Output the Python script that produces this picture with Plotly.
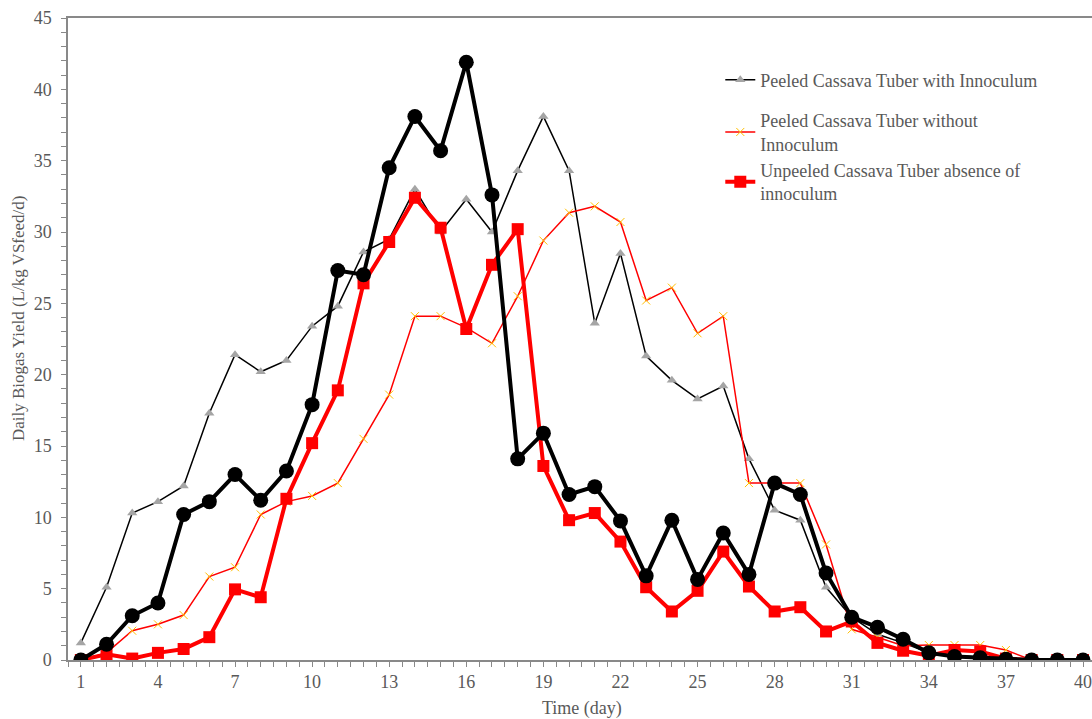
import plotly.graph_objects as go

days = list(range(1, 41))

peeled_with = [1.2, 5.1, 10.3, 11.1, 12.2, 17.3, 21.4, 20.2, 21.0, 23.4,
               24.8, 28.6, 29.5, 33.0, 30.0, 32.3, 30.0, 34.3, 38.1, 34.3,
               23.6, 28.5, 21.3, 19.6, 18.3, 19.2, 14.1, 10.5, 9.8, 5.1,
               3.0, 1.8, 1.2, 0.5, 0.3, 0.2, 0.1, 0.0, 0.0, 0.0]

peeled_without = [0.0, 0.5, 2.05, 2.5, 3.15, 5.85, 6.5, 10.2, 11.1, 11.5,
                  12.4, 15.5, 18.6, 24.1, 24.1, 23.3, 22.2, 25.5, 29.4, 31.35,
                  31.8, 30.7, 25.2, 26.1, 22.9, 24.1, 12.4, 12.4, 12.4, 8.1,
                  2.15, 1.6, 1.0, 1.05, 1.05, 1.05, 0.7, 0.0, 0.0, 0.0]

unpeeled = [0.0, 0.4, 0.1, 0.5, 0.77, 1.6, 4.95, 4.4, 11.3, 15.2,
            18.9, 26.4, 29.3, 32.4, 30.3, 23.2, 27.7, 30.2, 13.6, 9.8,
            10.3, 8.3, 5.1, 3.4, 4.85, 7.6, 5.15, 3.4, 3.7, 2.0,
            2.7, 1.2, 0.65, 0.3, 0.7, 0.6, 0.1, 0.0, 0.0, 0.0]

circles_series = [0.0, 1.1, 3.1, 4.0, 10.2, 11.1, 13.0, 11.2, 13.25, 17.9,
                  27.3, 27.0, 34.5, 38.1, 35.7, 41.9, 32.6, 14.1, 15.9, 11.6,
                  12.15, 9.75, 5.9, 9.8, 5.65, 8.9, 6.0, 12.4, 11.6, 6.1,
                  3.0, 2.3, 1.45, 0.5, 0.25, 0.15, 0.05, 0.0, 0.0, 0.0]

x_ticks = list(range(1, 41, 3))
y_ticks = list(range(0, 46, 5))

FONT = "Liberation Serif, Times New Roman, serif"
GREY = "#595959"
AXIS = "#898989"

fig = go.Figure()

fig.add_trace(go.Scatter(
    x=days, y=peeled_with, mode="lines+markers",
    name="Peeled Cassava Tuber with Innoculum", legendgroup="a",
    line=dict(color="black", width=1.5),
    marker=dict(symbol="triangle-up", color="#a5a5a5", size=9, line=dict(width=0)),
))
fig.add_trace(go.Scatter(
    x=days, y=peeled_without, mode="lines+markers",
    name="Peeled Cassava Tuber without<br>Innoculum", legendgroup="b",
    line=dict(color="#ff0000", width=1.5),
    marker=dict(symbol="x-thin", color="#ffc000", size=8, line=dict(width=1, color="#ffc000")),
))
fig.add_trace(go.Scatter(
    x=days, y=unpeeled, mode="lines+markers",
    name="Unpeeled Cassava Tuber absence of<br>innoculum", legendgroup="b",
    line=dict(color="#ff0000", width=4),
    marker=dict(symbol="square", color="#ff0000", size=12, line=dict(width=0)),
))
fig.add_trace(go.Scatter(
    x=days, y=circles_series, mode="lines+markers",
    name="Series 4", showlegend=False,
    line=dict(color="black", width=4),
    marker=dict(symbol="circle", color="black", size=15, line=dict(width=0)),
))

fig.update_layout(
    width=1092, height=719,
    margin=dict(l=68, r=0, t=18, b=59),
    paper_bgcolor="white", plot_bgcolor="white",
    font=dict(family=FONT, color=GREY, size=18),
    legend=dict(
        x=0.637, y=0.932, xanchor="left", yanchor="top",
        font=dict(family=FONT, size=18, color=GREY),
        bgcolor="rgba(0,0,0,0)", traceorder="grouped", tracegroupgap=14,
    ),
    xaxis=dict(
        range=[0.5, 40.35], tickmode="array", tickvals=x_ticks,
        ticktext=[str(v) for v in x_ticks],
        showgrid=False, zeroline=False,
        showline=True, linecolor=AXIS, linewidth=1.5, mirror=True,
        ticks="outside", ticklen=5, tickcolor=AXIS,
        minor=dict(dtick=0.5, tick0=0.5, ticks="outside", ticklen=5, tickcolor=AXIS),
        tickfont=dict(size=18, color=GREY),
        ticklabeloverflow="allow",
    ),
    yaxis=dict(
        range=[0, 45], tickmode="array", tickvals=y_ticks,
        showgrid=False, zeroline=False,
        showline=True, linecolor=AXIS, linewidth=1.5,
        ticks="outside", ticklen=5, tickcolor=AXIS,
        minor=dict(dtick=1, ticks="outside", ticklen=5, tickcolor=AXIS),
        tickfont=dict(size=18, color=GREY),
        ticklabelstandoff=6,
    ),
    annotations=[
        dict(text="Time (day)", xref="paper", yref="paper", x=0.502, y=-0.0748,
             xanchor="center", yanchor="middle", showarrow=False,
             font=dict(family=FONT, size=18, color=GREY)),
        dict(text="Daily Biogas Yield (L/kg VSfeed/d)", xref="paper", yref="paper",
             x=-0.0488, y=0.5327, xanchor="center", yanchor="middle", showarrow=False,
             textangle=-90, font=dict(family=FONT, size=17, color=GREY)),
    ],
)

fig.write_html("out.html")
